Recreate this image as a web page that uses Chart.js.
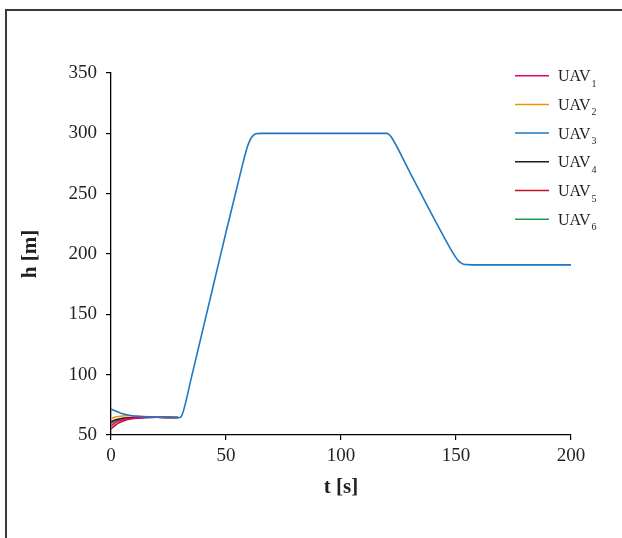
<!DOCTYPE html>
<html>
<head>
<meta charset="utf-8">
<script src="https://cdn.jsdelivr.net/npm/chart.js@4.4.1/dist/chart.umd.min.js"></script>
<style>
    html, body { margin: 0; padding: 0; background: #ffffff; overflow: hidden; }
    #wrap { position: relative; width: 622px; height: 538px; }
    #frame { position: absolute; left: 5px; top: 9px; width: 640px; height: 560px; border: 2px solid #3a3a3a; box-sizing: border-box; }
    #chartBox { position: absolute; left: 0; top: 0; width: 622px; height: 538px; }
</style>
</head>
<body>
<div id="wrap">
    <div id="frame"></div>
    <div id="chartBox"><canvas id="grafica"></canvas></div>
</div>
<script>
// series data (time in s, altitude in m)
const uavNames = ["UAV1", "UAV2", "UAV3", "UAV4", "UAV5", "UAV6"];
const uavColors = ["#e5007d", "#f39200", "#1f78c4", "#1d1d1b", "#be1622", "#1a9b4b"];

const earlyTimes = [0, 1, 2, 3, 4, 6, 8, 10, 12, 15, 20, 25, 29];
const uav1 = [57.5, 59.0, 60.3, 61.3, 62.0, 63.0, 63.7, 64.1, 64.4, 64.6, 64.7, 64.6, 64.5];
const uav2 = [63.5, 64.3, 64.9, 65.3, 65.6, 65.9, 65.9, 65.8, 65.6, 65.3, 65.0, 64.8, 64.6];
const uav4 = [61.0, 61.9, 62.6, 63.1, 63.5, 64.0, 64.3, 64.5, 64.6, 64.7, 64.7, 64.6, 64.5];
const uav5 = [55.0, 56.8, 58.3, 59.6, 60.6, 62.1, 63.1, 63.8, 64.2, 64.5, 64.7, 64.6, 64.5];
const uav6 = [59.5, 60.6, 61.5, 62.2, 62.8, 63.6, 64.1, 64.4, 64.5, 64.6, 64.7, 64.6, 64.5];

const uav3Times = [0, 2, 4, 6, 8, 10, 13, 17, 22, 27, 29.5, 30.5, 31.5, 35, 40, 45, 50, 55, 59, 60, 61, 62, 63, 65,
    120, 121, 122, 130, 140, 148, 150, 151, 152, 153, 155, 160, 200];
const uav3 = [71.5, 69.8, 68.3, 67.2, 66.4, 65.8, 65.3, 65.0, 64.8, 64.6, 64.4, 65.2, 70, 98, 138, 178, 218, 257, 287, 292.5, 296.3, 298.5, 299.6, 300,
    300, 298.8, 296.5, 267.5, 231, 203, 197, 194.5, 192.8, 191.8, 191.2, 191, 191];

const xTicks = [0, 50, 100, 150, 200];
const yTicks = [50, 100, 150, 200, 250, 300, 350];

function toPoints(aTimes, aValues){
    return aTimes.map((t, i) => ({ x: t, y: aValues[i] }));
}

const seriesData = [
    toPoints(earlyTimes, uav1),
    toPoints(earlyTimes, uav2),
    toPoints(uav3Times, uav3),
    toPoints(earlyTimes, uav4),
    toPoints(earlyTimes, uav5),
    toPoints(earlyTimes, uav6)
];

const serifFont = "'Liberation Serif', 'DejaVu Serif', serif";
const inkColor = "#231f20";

// legend with subscript numbers
const legendSub = {
    id: 'legendSub',
    afterDraw(chart){
        const ctx = chart.ctx;
        const x0 = 515, x1 = 549, xText = 558;
        const yStart = 75.7, step = 28.7;
        ctx.save();
        chart.data.datasets.forEach((ds, i) => {
            const y = yStart + i * step;
            ctx.strokeStyle = ds.borderColor;
            ctx.lineWidth = 1.5;
            ctx.beginPath();
            ctx.moveTo(x0, y);
            ctx.lineTo(x1, y);
            ctx.stroke();
            const base = ds.label.replace(/[0-9]+$/, '');
            const sub = ds.label.slice(base.length);
            ctx.fillStyle = inkColor;
            ctx.textBaseline = 'alphabetic';
            ctx.font = "16px " + serifFont;
            ctx.fillText(base, xText, y + 5.5);
            const w = ctx.measureText(base).width;
            ctx.font = "10px " + serifFont;
            ctx.fillText(sub, xText + w + 1, y + 11);
        });
        ctx.restore();
    }
};

const datasets = uavNames.map((name, i) => ({
    label: name,
    data: seriesData[i],
    borderColor: uavColors[i],
    backgroundColor: uavColors[i],
    borderWidth: 1.6,
    pointRadius: 0,
    fill: false,
    cubicInterpolationMode: 'monotone',
    order: name === "UAV3" ? -1 : i
}));

new Chart(document.getElementById('grafica'), {
    type: 'line',
    data: { datasets: datasets },
    plugins: [legendSub],
    options: {
        responsive: true,
        maintainAspectRatio: false,
        animation: false,
        layout: {
            padding: { top: 73, right: 51, bottom: 0, left: 0 }
        },
        plugins: {
            legend: { display: false },
            tooltip: { enabled: false }
        },
        scales: {
            x: {
                type: 'linear',
                min: 0,
                max: 200,
                afterBuildTicks: (axis) => { axis.ticks = xTicks.map(v => ({ value: v })); },
                afterFit: (scale) => { scale.height = 103; },
                grid: { drawOnChartArea: false, drawTicks: true, tickLength: 5, color: '#000', lineWidth: 1.2 },
                border: { display: true, color: '#000', width: 1.3 },
                ticks: {
                    color: inkColor,
                    padding: 5,
                    maxRotation: 0,
                    font: { family: serifFont, size: 19 }
                },
                title: {
                    display: true,
                    text: 't [s]',
                    color: inkColor,
                    font: { family: serifFont, size: 21, weight: 'bold' },
                    padding: { top: 0, bottom: 38 }
                }
            },
            y: {
                type: 'linear',
                min: 50,
                max: 350,
                afterBuildTicks: (axis) => { axis.ticks = yTicks.map(v => ({ value: v })); },
                afterFit: (scale) => { scale.width = 111; },
                grid: { drawOnChartArea: false, drawTicks: true, tickLength: 5, color: '#000', lineWidth: 1.2 },
                border: { display: true, color: '#000', width: 1.3 },
                ticks: {
                    color: inkColor,
                    padding: 9,
                    font: { family: serifFont, size: 19 }
                },
                title: {
                    display: true,
                    text: 'h [m]',
                    color: inkColor,
                    font: { family: serifFont, size: 21, weight: 'bold' },
                    padding: { top: 18, bottom: 0 }
                }
            }
        }
    }
});
</script>
</body>
</html>
